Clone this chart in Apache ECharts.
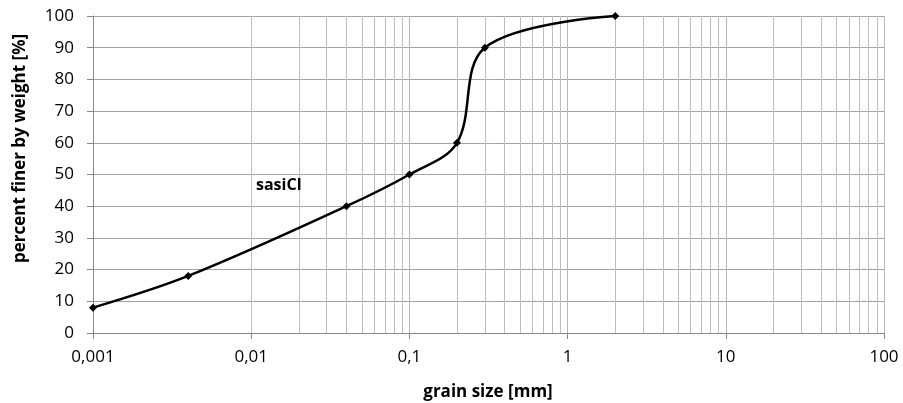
<!DOCTYPE html>
<html><head><meta charset="utf-8">
<script src="https://cdn.jsdelivr.net/npm/echarts@6/dist/echarts.min.js"></script>
<style>html,body{margin:0;padding:0;background:#fff}#c{width:903px;height:403px}</style>
</head><body><div id="c"></div>
<script>
const grainSize = [0.001, 0.004, 0.04, 0.1, 0.2, 0.3, 2];
const percentFiner = [8, 18, 40, 50, 60, 90, 100];
const xTickLabels = ['0,001', '0,01', '0,1', '1', '10', '100'];
const seriesName = 'sasiCl';
const xTitle = 'grain size [mm]';
const yTitle = 'percent finer by weight [%]';

const FONT = '"Open Sans", sans-serif';
const minorLines = [];
for (let e = -3; e < 2; e++) {
  for (let k = 2; k <= 9; k++) minorLines.push({ xAxis: k * Math.pow(10, e) });
}
const chart = echarts.init(document.getElementById('c'), null, { renderer: 'canvas' });
chart.setOption({
  animation: false,
  backgroundColor: '#fff',
  grid: { left: 93, right: 19, top: 16, bottom: 70, containLabel: false },
  xAxis: {
    type: 'log', logBase: 10, min: 0.001, max: 100,
    axisLine: { show: true, lineStyle: { color: '#868686', width: 1 } },
    axisTick: { show: true, length: 6, inside: false, lineStyle: { color: '#868686' } },
    axisLabel: { margin: 16, fontFamily: FONT, fontSize: 17, color: '#000',
      formatter: v => xTickLabels[Math.round(Math.log10(v)) + 3] },
    splitLine: { show: true, lineStyle: { color: '#b8b8b8', width: 1 } },
    minorTick: { show: false }, minorSplitLine: { show: false }
  },
  yAxis: {
    type: 'value', min: 0, max: 100, interval: 10,
    axisLine: { show: true, lineStyle: { color: '#868686', width: 1 } },
    axisTick: { show: true, length: 6, lineStyle: { color: '#868686' } },
    axisLabel: { margin: 19, fontFamily: FONT, fontSize: 17, color: '#000' },
    splitLine: { show: true, lineStyle: { color: '#a3a3a3', width: 1 } }
  },
  series: [
    {
      type: 'line', data: [], silent: true, z: 1,
      markLine: { silent: true, symbol: 'none', label: { show: false },
        lineStyle: { color: '#bebebe', width: 1, type: 'solid' }, data: minorLines }
    },
    {
      name: seriesName, type: 'line', z: 5,
      data: grainSize.map((x, i) => [x, percentFiner[i]]),
      smooth: 0.35,
      symbol: 'diamond', symbolSize: 8,
      itemStyle: { color: '#000' },
      lineStyle: { color: '#000', width: 2.5 }
    }
  ],
  graphic: [
    { type: 'text', x: 256, y: 185, z: 10,
      style: { text: seriesName, fontFamily: FONT, fontWeight: 'bold', fontSize: 16, fill: '#000',
        align: 'left', verticalAlign: 'middle' } },
    { type: 'text', x: 488, y: 392, z: 10,
      style: { text: xTitle, fontFamily: FONT, fontWeight: 'bold', fontSize: 17, fill: '#000',
        align: 'center', verticalAlign: 'middle' } },
    { type: 'text', x: 20, y: 148.5, rotation: Math.PI / 2, z: 10,
      style: { text: yTitle, fontFamily: FONT, fontWeight: 'bold', fontSize: 17, fill: '#000',
        align: 'center', verticalAlign: 'middle' } }
  ]
});
</script></body></html>
